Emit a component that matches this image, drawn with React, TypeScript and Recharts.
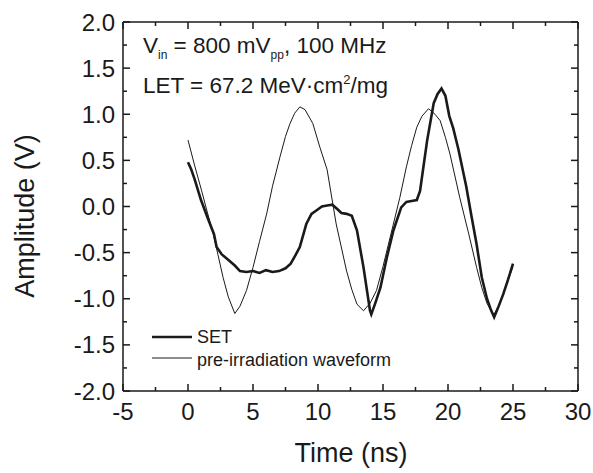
import { Line, LineChart, XAxis, YAxis } from "recharts";

// Time (ns) and amplitude (V)
const setTime = [
  0, 0.25, 0.5, 1.0, 1.5, 2.0, 2.2, 2.6, 3.2, 3.6, 4.0, 4.5, 5.0, 5.5, 6.0, 6.5, 7.0, 7.5, 7.9, 8.3,
  8.6, 9.1, 9.5, 9.9, 10.3, 10.7, 11.1, 11.5, 11.8, 12.2, 12.6, 13.0, 13.5, 14.0, 14.1, 14.4, 14.8,
  15.3, 15.8, 16.4, 16.8, 17.2, 17.6, 17.85, 18.1, 18.4, 18.9, 19.2, 19.5, 19.8, 20.1, 20.4, 20.8,
  21.4, 21.8, 22.2, 22.6, 23.0, 23.3, 23.55, 23.9, 24.25, 24.6, 25.0,
];
const setAmp = [
  0.48, 0.4, 0.3, 0.07, -0.12, -0.3, -0.44, -0.52, -0.59, -0.64, -0.7, -0.71, -0.7, -0.72, -0.69,
  -0.71, -0.7, -0.67, -0.62, -0.52, -0.44, -0.19, -0.08, -0.04, 0.0, 0.01, 0.02, -0.03, -0.07,
  -0.08, -0.1, -0.26, -0.66, -1.13, -1.17, -1.05, -0.88, -0.55, -0.26, -0.01, 0.05, 0.06, 0.07,
  0.17, 0.42, 0.72, 1.12, 1.22, 1.28, 1.2, 0.98, 0.85, 0.62, 0.22, -0.1, -0.41, -0.77, -1.0, -1.12,
  -1.2, -1.08, -0.95, -0.8, -0.62,
];

const preTime = [
  0, 0.5, 1.05, 1.5, 1.95, 2.3, 2.7, 3.1, 3.6, 4.0, 4.5, 5.0, 5.5, 6.05, 6.5, 7.08, 7.5, 7.85, 8.2,
  8.6, 9.0, 9.6, 10.15, 10.7, 11.4, 12.2, 12.6, 13.0, 13.5, 14.0, 14.5, 15.0, 15.8, 16.3, 16.8, 17.2,
  17.6, 18.0, 18.5, 19.0, 19.4, 19.8, 20.15, 20.9, 21.6, 22.2, 22.6, 23.0, 23.5, 24.0, 24.5, 25.0,
];
const preAmp = [
  0.72, 0.45, 0.17, -0.07, -0.3, -0.52, -0.77, -0.98, -1.16, -1.08, -0.91, -0.66, -0.38, -0.08, 0.22,
  0.54, 0.76, 0.9, 1.01, 1.08, 1.05, 0.9, 0.64, 0.4, -0.19, -0.7, -0.9, -1.06, -1.13, -1.05, -0.91,
  -0.65, -0.19, 0.1, 0.43, 0.66, 0.86, 0.98, 1.06, 1.0, 0.93, 0.75, 0.57, 0.1, -0.3, -0.66, -0.88,
  -1.05, -1.18, -1.05, -0.85, -0.65,
];

const xTicks = [-5, -2.5, 0, 2.5, 5, 7.5, 10, 12.5, 15, 17.5, 20, 22.5, 25, 27.5, 30];
const yTicks = [
  -2, -1.75, -1.5, -1.25, -1, -0.75, -0.5, -0.25, 0, 0.25, 0.5, 0.75, 1, 1.25, 1.5, 1.75, 2,
];

const setData = setTime.map((t, i) => ({ t, v: setAmp[i] }));
const preData = preTime.map((t, i) => ({ t, v: preAmp[i] }));

const font = "'Liberation Sans', Arial, sans-serif";
const ink = "#1a1a1a";

const isMajorX = (v: number) => Math.abs(v / 5 - Math.round(v / 5)) < 1e-6;
const isMajorY = (v: number) => Math.abs(v * 2 - Math.round(v * 2)) < 1e-6;

function BottomTick({ x, y, payload }: any) {
  const major = isMajorX(payload.value);
  return (
    <g>
      <line x1={x} x2={x} y1={y} y2={y - (major ? 7 : 4)} stroke={ink} strokeWidth={1.5} />
      {major && (
        <text x={x} y={y + 29} textAnchor="middle" fontSize={24} fill={ink} fontFamily={font}>
          {payload.value}
        </text>
      )}
    </g>
  );
}

function TopTick({ x, y, payload }: any) {
  const major = isMajorX(payload.value);
  return <line x1={x} x2={x} y1={y} y2={y + (major ? 7 : 4)} stroke={ink} strokeWidth={1.5} />;
}

function LeftTick({ x, y, payload }: any) {
  const major = isMajorY(payload.value);
  return (
    <g>
      <line x1={x} x2={x + (major ? 7 : 4)} y1={y} y2={y} stroke={ink} strokeWidth={1.5} />
      {major && (
        <text x={x - 8} y={y + 8.5} textAnchor="end" fontSize={24} fill={ink} fontFamily={font}>
          {payload.value.toFixed(1)}
        </text>
      )}
    </g>
  );
}

function RightTick({ x, y, payload }: any) {
  const major = isMajorY(payload.value);
  return <line x1={x} x2={x - (major ? 7 : 4)} y1={y} y2={y} stroke={ink} strokeWidth={1.5} />;
}

export default function App() {
  return (
    <div style={{ position: "absolute", left: 0, top: 0, width: 593, height: 473, background: "#fff" }}>
      <LineChart width={593} height={473} margin={{ top: 21, right: 14, left: 0, bottom: 0 }}>
        <XAxis
          type="number"
          dataKey="t"
          domain={[-5, 30]}
          ticks={xTicks}
          interval={0}
          allowDataOverflow
          height={82}
          tickSize={0}
          tickMargin={0}
          tickLine={false}
          axisLine={{ stroke: ink, strokeWidth: 1.5 }}
          tick={<BottomTick />}
          label={{
            content: () => (
              <text x={351} y={462} textAnchor="middle" fontSize={27} fill={ink} fontFamily={font}>
                Time (ns)
              </text>
            ),
          }}
        />
        <XAxis
          xAxisId="top"
          orientation="top"
          type="number"
          dataKey="t"
          domain={[-5, 30]}
          ticks={xTicks}
          interval={0}
          allowDataOverflow
          height={1}
          tickSize={0}
          tickMargin={0}
          tickLine={false}
          axisLine={{ stroke: ink, strokeWidth: 1.5 }}
          tick={<TopTick />}
        />
        <YAxis
          type="number"
          domain={[-2, 2]}
          ticks={yTicks}
          interval={0}
          allowDataOverflow
          width={123}
          tickSize={0}
          tickMargin={0}
          tickLine={false}
          axisLine={{ stroke: ink, strokeWidth: 1.5 }}
          tick={<LeftTick />}
          label={{
            content: () => (
              <text
                x={34}
                y={216}
                transform="rotate(-90 34 216)"
                textAnchor="middle"
                fontSize={27}
                fill={ink}
                fontFamily={font}
              >
                Amplitude (V)
              </text>
            ),
          }}
        />
        <YAxis
          yAxisId="right"
          orientation="right"
          type="number"
          domain={[-2, 2]}
          ticks={yTicks}
          interval={0}
          allowDataOverflow
          width={1}
          tickSize={0}
          tickMargin={0}
          tickLine={false}
          axisLine={{ stroke: ink, strokeWidth: 1.5 }}
          tick={<RightTick />}
        />
        <Line
          data={preData}
          dataKey="v"
          type="linear"
          stroke={ink}
          strokeWidth={1}
          dot={false}
          isAnimationActive={false}
        />
        <Line
          data={setData}
          dataKey="v"
          type="linear"
          stroke={ink}
          strokeWidth={2.6}
          dot={false}
          isAnimationActive={false}
        />
      </LineChart>
      <svg
        width={593}
        height={473}
        style={{ position: "absolute", left: 0, top: 0, pointerEvents: "none" }}
        fontFamily={font}
        fill={ink}
      >
        <text x={143} y={53} fontSize={22.5}>
          V<tspan fontSize={12} dy={6}>in</tspan>
          <tspan dy={-6}> = 800 mV</tspan>
          <tspan fontSize={12} dy={6}>pp</tspan>
          <tspan dy={-6}>, 100 MHz</tspan>
        </text>
        <text x={143} y={93} fontSize={22.5}>
          LET = 67.2 MeV·cm<tspan fontSize={13} dy={-9}>2</tspan>
          <tspan dy={9}>/mg</tspan>
        </text>
        <line x1={152} x2={192} y1={337} y2={337} stroke={ink} strokeWidth={2.6} />
        <text x={197} y={343} fontSize={18}>
          SET
        </text>
        <line x1={152} x2={192} y1={358} y2={358} stroke={ink} strokeWidth={1} />
        <text x={197} y={366} fontSize={18}>
          pre-irradiation waveform
        </text>
      </svg>
    </div>
  );
}
